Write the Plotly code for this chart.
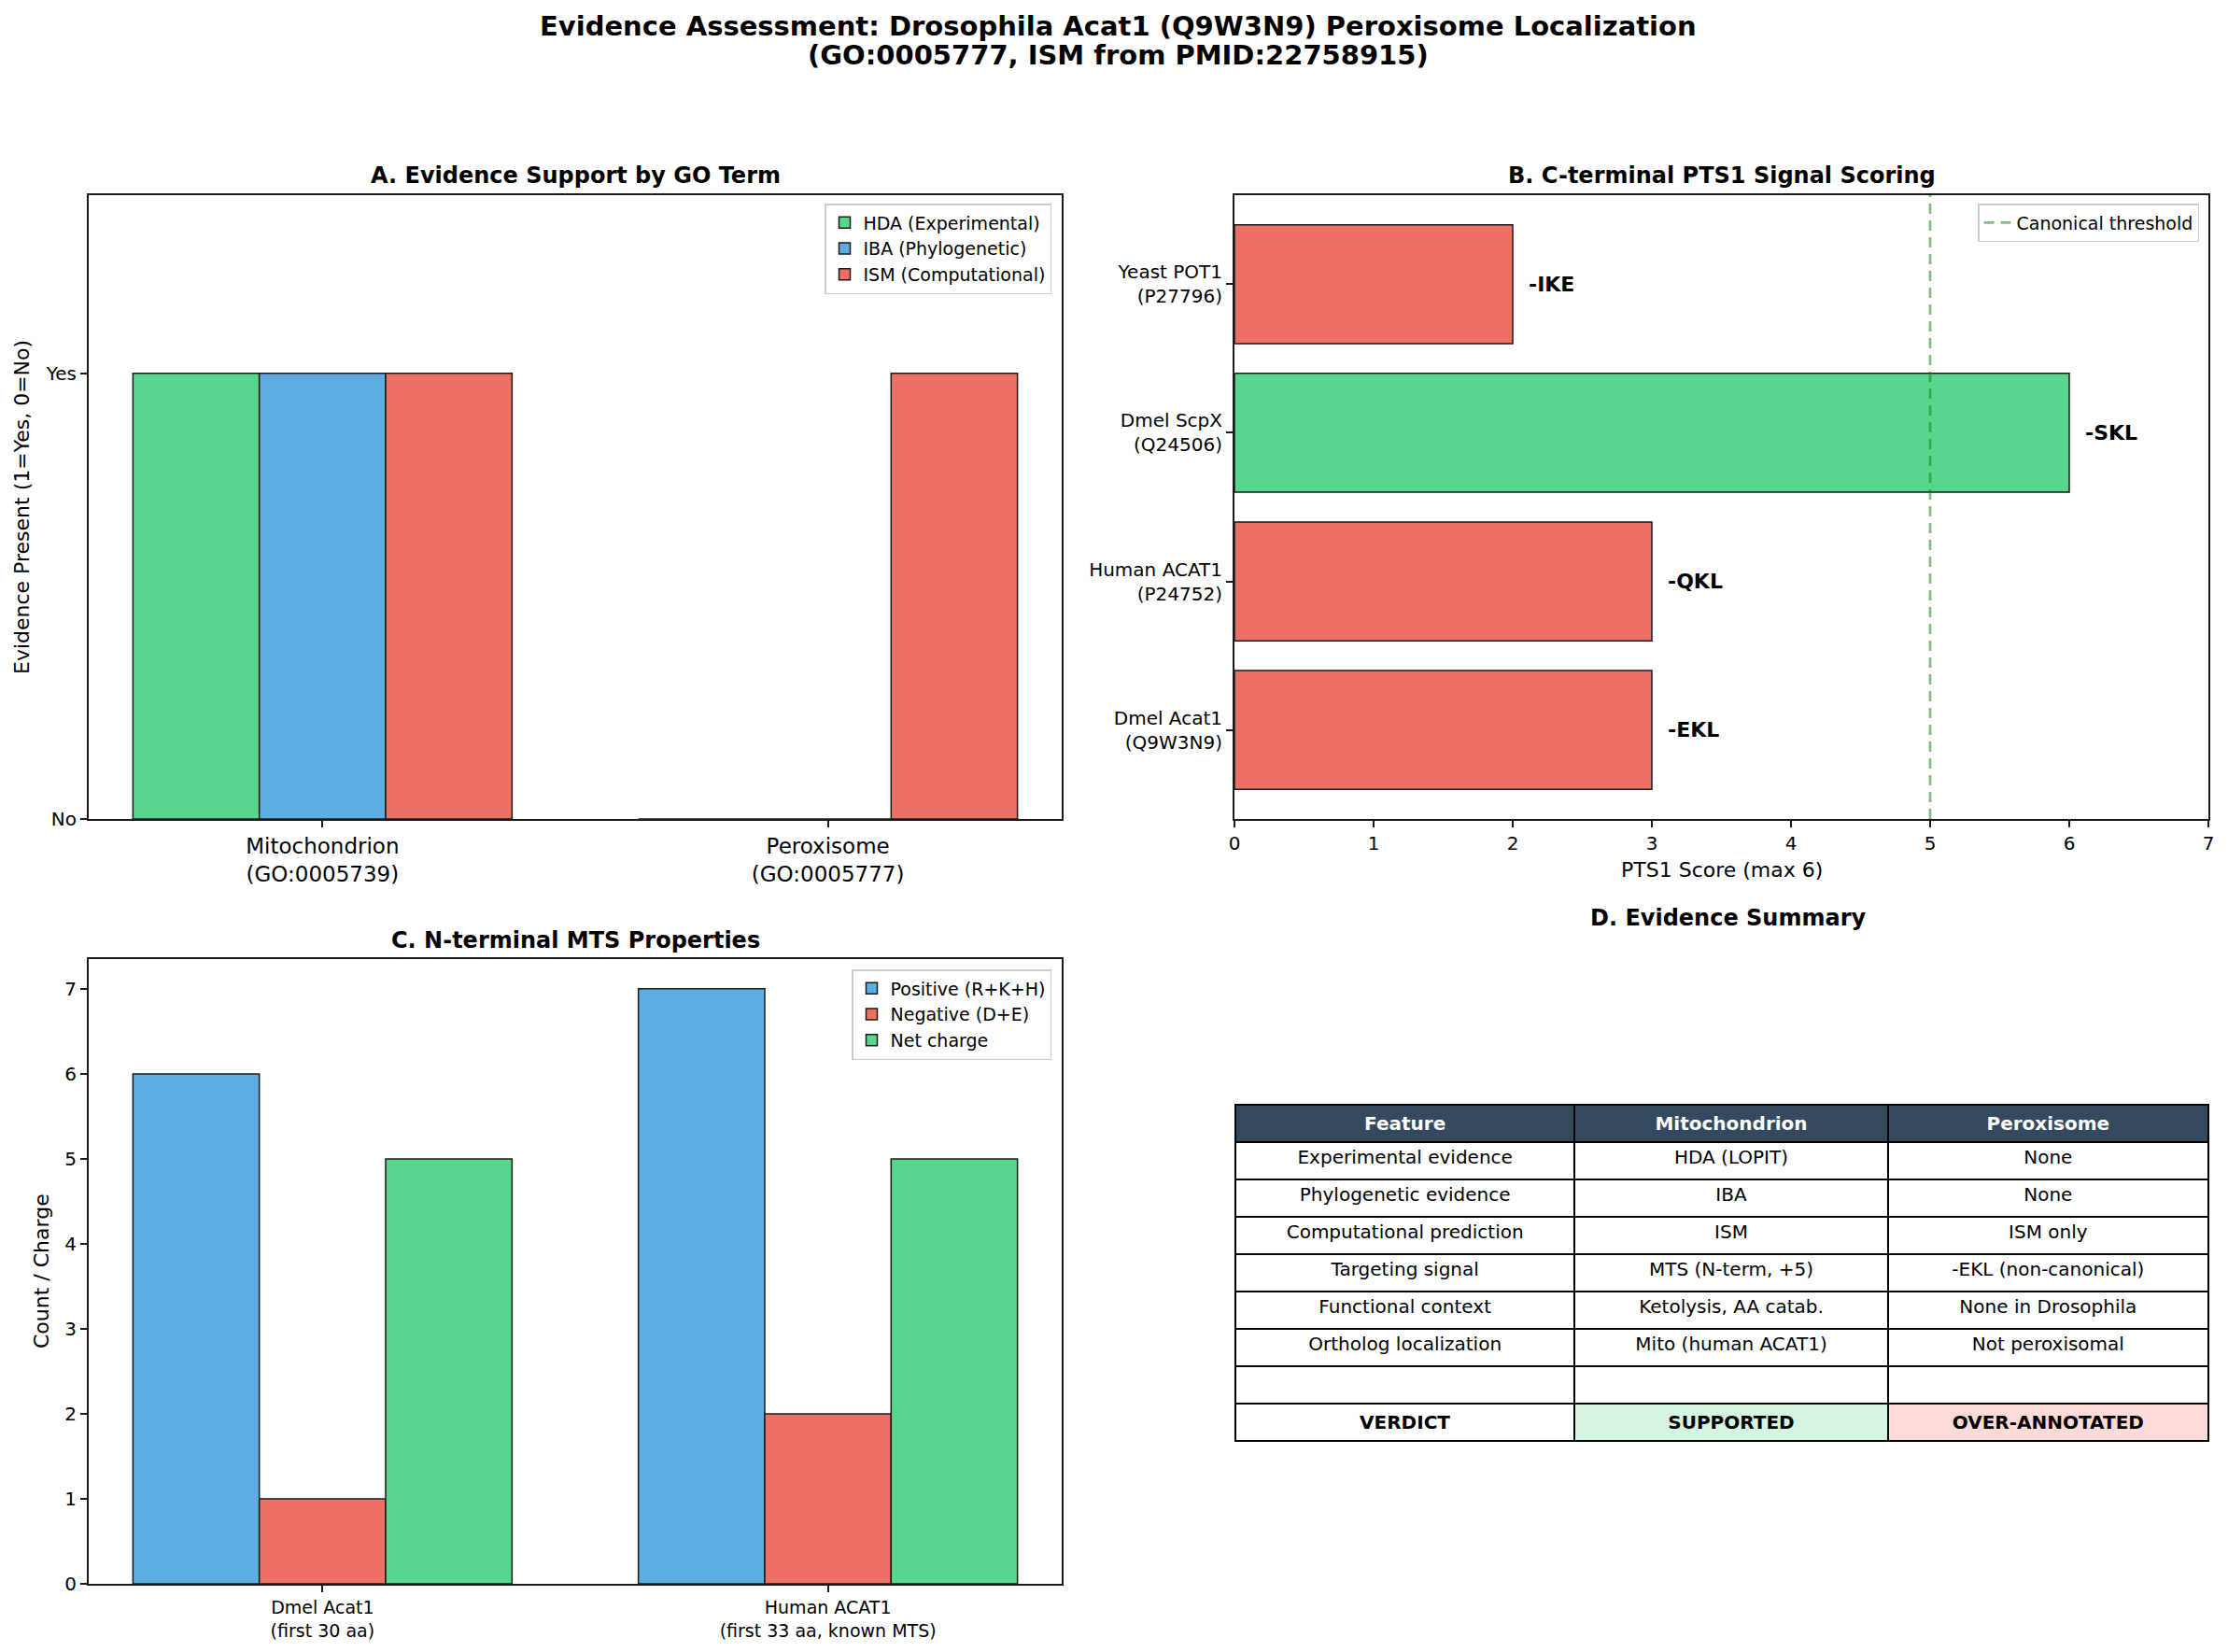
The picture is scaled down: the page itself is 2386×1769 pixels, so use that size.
import plotly.graph_objects as go

W, H = 2386, 1769
# the page body has an 8px margin, so the figure is drawn 8px in from the top-left
PAD = 8
FIG_W, FIG_H = W - PAD, H - PAD

# Panel A: evidence by GO term
go_terms = ['Mitochondrion<br>(GO:0005739)', 'Peroxisome<br>(GO:0005777)']
evidence_names = ['HDA (Experimental)', 'IBA (Phylogenetic)', 'ISM (Computational)']
hda = [1, 0]
iba = [1, 0]
ism = [1, 1]

# Panel B: PTS1 scoring
proteins = ['Dmel Acat1<br>(Q9W3N9)', 'Human ACAT1<br>(P24752)',
            'Dmel ScpX<br>(Q24506)', 'Yeast POT1<br>(P27796)']
pts1_scores = [3, 3, 6, 2]
pts1_motifs = ['-EKL', '-QKL', '-SKL', '-IKE']
canonical_threshold = 5

# Panel C: N-terminal MTS properties
mts_labels = ['Dmel Acat1<br>(first 30 aa)', 'Human ACAT1<br>(first 33 aa, known MTS)']
charge_names = ['Positive (R+K+H)', 'Negative (D+E)', 'Net charge']
positive = [6, 7]
negative = [1, 2]
net_charge = [5, 5]

# Panel D: summary table
table_header = ['Feature', 'Mitochondrion', 'Peroxisome']
features = ['Experimental evidence', 'Phylogenetic evidence', 'Computational prediction',
            'Targeting signal', 'Functional context', 'Ortholog localization', '', '<b>VERDICT</b>']
mito_col = ['HDA (LOPIT)', 'IBA', 'ISM', 'MTS (N-term, +5)', 'Ketolysis, AA catab.',
            'Mito (human ACAT1)', '', '<b>SUPPORTED</b>']
perox_col = ['None', 'None', 'ISM only', '-EKL (non-canonical)', 'None in Drosophila',
             'Not peroxisomal', '', '<b>OVER-ANNOTATED</b>']

title_lines = ['Evidence Assessment: Drosophila Acat1 (Q9W3N9) Peroxisome Localization',
               '(GO:0005777, ISM from PMID:22758915)']

GREEN = '#58d68d'
BLUE = '#5dade2'
RED = '#ec7063'
EDGE = '#1a1a1a'
FONT = 'DejaVu Sans'


def px_x(p):
    return (p - PAD) / FIG_W


def px_y(p):
    return 1 - (p - PAD) / FIG_H


fig = go.Figure()

# ---- Panel A
width = 0.25
for i, (name, vals, col) in enumerate(zip(evidence_names, [hda, iba, ism], [GREEN, BLUE, RED])):
    fig.add_trace(go.Bar(
        x=list(range(len(go_terms))), y=vals, name=name, width=width,
        offset=-0.375 + width * i, marker=dict(color=col, line=dict(color=EDGE, width=1.5)),
        xaxis='x', yaxis='y', legend='legend',
    ))

# ---- Panel B
bar_colors = [GREEN if s >= canonical_threshold else RED for s in pts1_scores]
fig.add_trace(go.Bar(
    x=pts1_scores, y=list(range(len(proteins))), orientation='h', width=0.8,
    marker=dict(color=bar_colors, line=dict(color=EDGE, width=1.5)),
    showlegend=False, xaxis='x2', yaxis='y2',
))
fig.add_trace(go.Scatter(
    x=[canonical_threshold, canonical_threshold], y=[-0.6, 3.6], mode='lines',
    line=dict(color='rgba(0,128,0,0.5)', width=2.7, dash='11px,7px'),
    name='Canonical threshold', xaxis='x2', yaxis='y2', legend='legend2',
))
for i, (s, m) in enumerate(zip(pts1_scores, pts1_motifs)):
    fig.add_annotation(x=s + 0.1, y=i, xref='x2', yref='y2', text=f'<b>{m}</b>',
                       showarrow=False, xanchor='left', yanchor='middle',
                       font=dict(size=22, color='black'))

# ---- Panel C
for i, (name, vals, col) in enumerate(zip(charge_names, [positive, negative, net_charge],
                                          [BLUE, RED, GREEN])):
    fig.add_trace(go.Bar(
        x=list(range(len(mts_labels))), y=vals, name=name, width=width,
        offset=-0.375 + width * i, marker=dict(color=col, line=dict(color=EDGE, width=1.5)),
        xaxis='x3', yaxis='y3', legend='legend3',
    ))

# ---- Panel D table
n_rows = len(features)
fill_feature = ['white'] * n_rows
fill_mito = ['white'] * (n_rows - 1) + ['#d5f5e3']
fill_perox = ['white'] * (n_rows - 1) + ['#fadbd8']
fig.add_trace(go.Table(
    domain=dict(x=[px_x(1323), px_x(2365)], y=[0, px_y(1183)]),
    columnwidth=[363, 335, 343],
    header=dict(values=[f'<b>{h}</b>' for h in table_header], fill_color='#34495e',
                font=dict(color='white', size=20, family=FONT), align='center',
                height=40, line=dict(color='black', width=2)),
    cells=dict(values=[features, mito_col, perox_col],
               fill_color=[fill_feature, fill_mito, fill_perox],
               font=dict(color='black', size=20, family=FONT), align='center',
               height=40, line=dict(color='black', width=2)),
))

axis_common = dict(showline=True, mirror=True, linecolor=EDGE, linewidth=2,
                   showgrid=False, zeroline=False, ticks='outside', ticklen=7,
                   tickwidth=1.7, tickcolor=EDGE, automargin=False,
                   tickfont=dict(size=20, color='black'))
legend_common = dict(xanchor='right', yanchor='top', bgcolor='rgba(255,255,255,0.8)',
                     bordercolor='#cccccc', borderwidth=1.5, font=dict(size=19, color='black'))

fig.update_layout(
    width=FIG_W, height=FIG_H,
    margin=dict(l=0, r=0, t=0, b=0),
    paper_bgcolor='white', plot_bgcolor='white',
    font=dict(family=FONT, color='black'),
    barmode='overlay',
    xaxis=dict(axis_common, domain=[px_x(95), px_x(1137)], range=[-0.4625, 1.4625],
               tickvals=list(range(len(go_terms))), ticktext=go_terms,
               tickfont=dict(size=23, color='black'), anchor='y'),
    yaxis=dict(axis_common, domain=[px_y(877), px_y(209)], range=[0, 1.4],
               tickvals=[0, 1], ticktext=['No', 'Yes'], anchor='x'),
    xaxis2=dict(axis_common, domain=[px_x(1322), px_x(2365)], range=[0, 7], dtick=1,
                tick0=0, anchor='y2'),
    yaxis2=dict(axis_common, domain=[px_y(877), px_y(209)], range=[-0.6, 3.6],
                tickvals=list(range(len(proteins))), ticktext=proteins,
                tickfont=dict(size=20, color='black'), anchor='x2'),
    xaxis3=dict(axis_common, domain=[px_x(95), px_x(1137)], range=[-0.4625, 1.4625],
                tickvals=list(range(len(mts_labels))), ticktext=mts_labels,
                tickfont=dict(size=19, color='black'), anchor='y3'),
    yaxis3=dict(axis_common, domain=[px_y(1696), px_y(1027)], range=[0, 7.35], dtick=1,
                anchor='x3'),
    legend=dict(legend_common, x=px_x(1126), y=px_y(218)),
    legend2=dict(legend_common, x=px_x(2355), y=px_y(218)),
    legend3=dict(legend_common, x=px_x(1126), y=px_y(1038)),
)

# figure title, one annotation per line to keep the tight line spacing
for line, cy in zip(title_lines, [28, 59]):
    fig.add_annotation(x=0.5, y=px_y(cy), xref='paper', yref='paper', text=f'<b>{line}</b>',
                       showarrow=False, xanchor='center', yanchor='middle',
                       font=dict(size=29, color='black'))

# panel titles
titles = [
    ('A. Evidence Support by GO Term', 616, 188),
    ('B. C-terminal PTS1 Signal Scoring', 1844, 188),
    ('C. N-terminal MTS Properties', 616, 1007),
    ('D. Evidence Summary', 1850, 983),
]
for text, cx, cy in titles:
    fig.add_annotation(x=px_x(cx), y=px_y(cy), xref='paper', yref='paper', text=f'<b>{text}</b>',
                       showarrow=False, xanchor='center', yanchor='middle',
                       font=dict(size=24, color='black'))

# axis labels
axis_labels = [
    ('Evidence Present (1=Yes, 0=No)', 23, 543, -90),
    ('PTS1 Score (max 6)', 1844, 932, 0),
    ('Count / Charge', 44, 1361, -90),
]
for text, cx, cy, angle in axis_labels:
    fig.add_annotation(x=px_x(cx), y=px_y(cy), xref='paper', yref='paper', text=text,
                       textangle=angle, showarrow=False, xanchor='center', yanchor='middle',
                       font=dict(size=22, color='black'))

fig.write_html('out.html')
